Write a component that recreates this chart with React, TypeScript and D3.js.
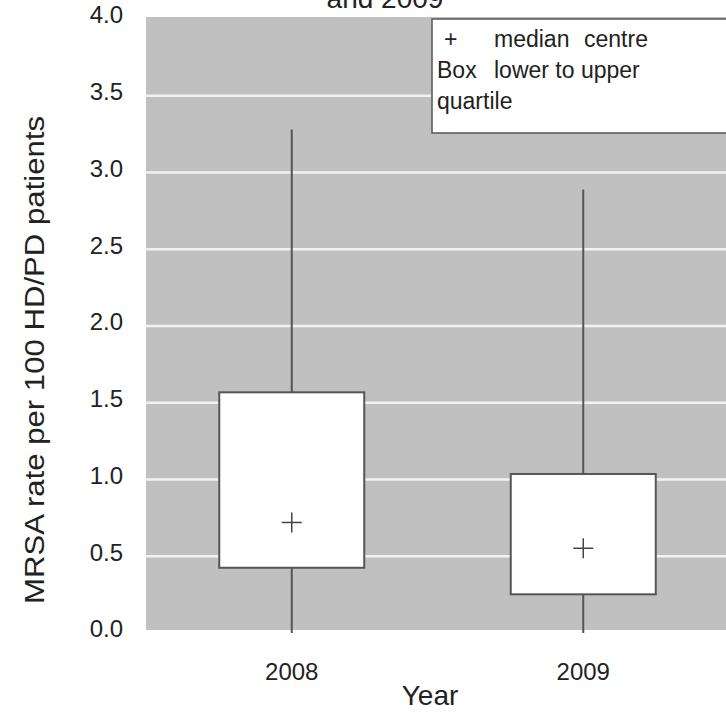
import React from "react";
import * as d3 from "d3";

const WIDTH = 726;
const HEIGHT = 714;

const years = ["2008", "2009"];
const minValues = [0, 0];
const q1Values = [0.425, 0.252];
const medianValues = [0.72, 0.552];
const q3Values = [1.568, 1.036];
const maxValues = [3.28, 2.89];
const yTicks = [0, 0.5, 1, 1.5, 2, 2.5, 3, 3.5, 4];

const PLOT_LEFT = 146;
const PLOT_RIGHT = 729;
const BOX_WIDTH = 145;
const CROSS = 10;

export default function App() {
  const y = d3.scaleLinear().domain([0, 4]).range([633, 19]);
  const x = d3
    .scalePoint<string>()
    .domain(years)
    .range([PLOT_LEFT, PLOT_RIGHT])
    .padding(0.5);

  const boxes = years.map((yr, i) => {
    const cx = x(yr) as number;
    return (
      <g key={yr}>
        <line
          x1={cx}
          x2={cx}
          y1={y(maxValues[i])}
          y2={y(minValues[i])}
          stroke="#555"
          strokeWidth={2}
        />
        <rect
          x={cx - BOX_WIDTH / 2}
          y={y(q3Values[i])}
          width={BOX_WIDTH}
          height={y(q1Values[i]) - y(q3Values[i])}
          fill="#fff"
          stroke="#555"
          strokeWidth={2}
        />
        <line
          x1={cx - CROSS}
          x2={cx + CROSS}
          y1={y(medianValues[i])}
          y2={y(medianValues[i])}
          stroke="#444"
          strokeWidth={1.5}
        />
        <line
          x1={cx}
          x2={cx}
          y1={y(medianValues[i]) - CROSS}
          y2={y(medianValues[i]) + CROSS}
          stroke="#444"
          strokeWidth={1.5}
        />
        <text x={cx} y={680} textAnchor="middle" fontSize={24} fill="#222">
          {yr}
        </text>
      </g>
    );
  });

  return (
    <svg
      width={WIDTH}
      height={HEIGHT}
      style={{ position: "absolute", left: 0, top: 0, background: "#fff" }}
      fontFamily="Arial, 'Liberation Sans', sans-serif"
    >
      {/* title is cropped in the original, only its last line's bottom shows */}
      <text x={385} y={8} textAnchor="middle" fontSize={28} fill="#222">
        and 2009
      </text>

      <rect
        x={PLOT_LEFT}
        y={y(4) - 2}
        width={PLOT_RIGHT - PLOT_LEFT}
        height={y(0) - y(4) - 1}
        fill="#c0c0c0"
      />
      {yTicks
        .filter((t) => t > 0 && t < 4)
        .map((t) => (
          <line
            key={t}
            x1={PLOT_LEFT}
            x2={PLOT_RIGHT}
            y1={y(t)}
            y2={y(t)}
            stroke="#f2f2f2"
            strokeWidth={2.5}
          />
        ))}
      {yTicks.map((t) => (
        <text
          key={t}
          x={123}
          y={y(t) - 2}
          textAnchor="end"
          dominantBaseline="middle"
          fontSize={24}
          fill="#222"
        >
          {d3.format(".1f")(t)}
        </text>
      ))}

      {boxes}

      <rect
        x={432}
        y={19}
        width={320}
        height={114}
        fill="#fff"
        stroke="#555"
        strokeWidth={1.5}
      />
      <g fontSize={23} fill="#222">
        <text x={444} y={47}>+</text>
        <text x={494} y={47}>median</text>
        <text x={584} y={47}>centre</text>
        <text x={437} y={78}>Box</text>
        <text x={494} y={78}>lower to upper</text>
        <text x={437} y={109}>quartile</text>
      </g>

      <text
        transform={`translate(44, 360) rotate(-90)`}
        textAnchor="middle"
        fontSize={27}
        textLength={488}
        lengthAdjust="spacingAndGlyphs"
        fill="#222"
      >
        MRSA rate per 100 HD/PD patients
      </text>
      <text x={430} y={705} textAnchor="middle" fontSize={28} fill="#222">
        Year
      </text>
    </svg>
  );
}
